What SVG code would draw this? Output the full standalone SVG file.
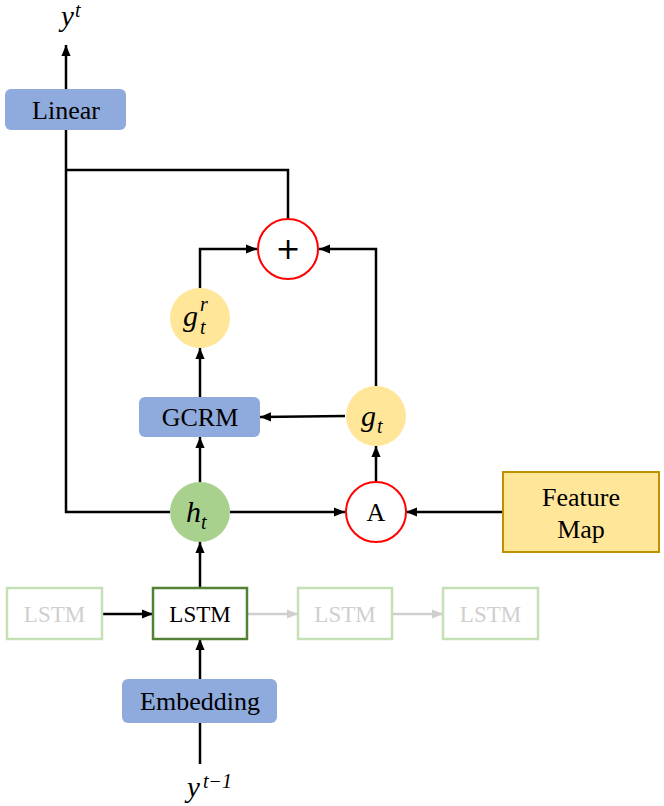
<svg xmlns="http://www.w3.org/2000/svg" width="664" height="806" viewBox="0 0 664 806">
<defs>
<marker id="ah" viewBox="0 0 12 10" refX="12" refY="5" markerWidth="11" markerHeight="10" markerUnits="userSpaceOnUse" orient="auto"><path d="M0,0 L12,5 L0,10 z" fill="#000"/></marker>
<marker id="ahg" viewBox="0 0 12 10" refX="12" refY="5" markerWidth="11" markerHeight="10" markerUnits="userSpaceOnUse" orient="auto"><path d="M0,0 L12,5 L0,10 z" fill="#d0cece"/></marker>
</defs>
<style>
text{font-family:"Liberation Serif","DejaVu Serif",serif}
.lbl{font-size:26px;fill:#000;text-anchor:middle}
.math{font-style:italic;fill:#000}
.blue{fill:#8faadc;stroke:none}
.yel{fill:#ffe699;stroke:none}
.red{fill:#fff;stroke:#ff0000;stroke-width:2}
.c{fill:none;stroke:#000;stroke-width:2.5}
.cg{fill:none;stroke:#d0cece;stroke-width:2.5}
.faint{fill:#fff;stroke:#c5e0b4;stroke-width:2.5}
.ftxt{font-size:23px;fill:#d0cece;text-anchor:middle}
.plus{font-family:"DejaVu Sans",sans-serif;font-size:30px;fill:#000;text-anchor:middle}
</style>
<g id="connectors">
<path class="c" d="M66,89 V45" marker-end="url(#ah)"/>
<path class="c" d="M170,512 H66 V130"/>
<path class="c" d="M288,219 V170 H66"/>
<path class="c" d="M200,288 V249 H257" marker-end="url(#ah)"/>
<path class="c" d="M376,386 V249 H319" marker-end="url(#ah)"/>
<path class="c" d="M200,397 V348" marker-end="url(#ah)"/>
<path class="c" d="M345,416 L260,417" marker-end="url(#ah)"/>
<path class="c" d="M200,482 V437" marker-end="url(#ah)"/>
<path class="c" d="M230,512 H345" marker-end="url(#ah)"/>
<path class="c" d="M503,512 H406" marker-end="url(#ah)"/>
<path class="c" d="M376,482 V446" marker-end="url(#ah)"/>
<path class="c" d="M200,588 V542" marker-end="url(#ah)"/>
<path class="c" d="M200,679 V639" marker-end="url(#ah)"/>
<path class="c" d="M200,764 V723"/>
<path class="c" d="M102,614 H153" marker-end="url(#ah)"/>
<path class="cg" d="M247,614 H298" marker-end="url(#ahg)"/>
<path class="cg" d="M392,614 H443" marker-end="url(#ahg)"/>
</g>
<g id="yt"><text class="math" x="61" y="26" font-size="29">y</text><text class="math" x="75" y="17" font-size="20">t</text></g>
<g id="linear"><rect class="blue" x="5" y="89" width="121" height="41" rx="6"/><text class="lbl" x="66" y="119">Linear</text></g>
<g id="plus"><circle class="red" cx="288" cy="249" r="30"/><text class="plus" x="288" y="259">+</text></g>
<g id="gtr"><circle class="yel" cx="200" cy="318" r="30"/><text class="math" x="183" y="326" font-size="30">g</text><text class="math" x="200" y="311" font-size="20">r</text><text class="math" x="200" y="334" font-size="20">t</text></g>
<g id="gcrm"><rect class="blue" x="139" y="397" width="121" height="40" rx="6"/><text class="lbl" x="200" y="426">GCRM</text></g>
<g id="gt"><circle class="yel" cx="376" cy="416" r="30"/><text class="math" x="361" y="426" font-size="30">g</text><text class="math" x="377" y="433" font-size="20">t</text></g>
<g id="ht"><circle fill="#a9d18e" cx="200" cy="512" r="30"/><text class="math" x="186" y="522" font-size="30">h</text><text class="math" x="201" y="529" font-size="20">t</text></g>
<g id="attn"><circle class="red" cx="376" cy="512" r="30"/><text class="lbl" x="376" y="521">A</text></g>
<g id="featuremap"><rect x="503" y="472" width="156" height="80" fill="#ffe699" stroke="#bf9000" stroke-width="2"/><text class="lbl" x="581" y="506">Feature</text><text class="lbl" x="581" y="538">Map</text></g>
<g id="lstm0"><rect class="faint" x="7" y="588" width="95" height="51"/><text class="ftxt" x="54.500" y="622">LSTM</text></g>
<g id="lstm1"><rect x="153" y="588" width="94" height="51" fill="#fff" stroke="#538135" stroke-width="2.5"/><text x="200" y="622" font-size="23" text-anchor="middle" fill="#000">LSTM</text></g>
<g id="lstm2"><rect class="faint" x="298" y="588" width="94" height="51"/><text class="ftxt" x="345" y="622">LSTM</text></g>
<g id="lstm3"><rect class="faint" x="443" y="588" width="95" height="51"/><text class="ftxt" x="490.500" y="622">LSTM</text></g>
<g id="embedding"><rect class="blue" x="122" y="679" width="155" height="44" rx="6"/><text class="lbl" x="200" y="710">Embedding</text></g>
<g id="yt1"><text class="math" x="187" y="797" font-size="29">y</text><text class="math" x="203" y="788" font-size="20">t−1</text></g>
</svg>
